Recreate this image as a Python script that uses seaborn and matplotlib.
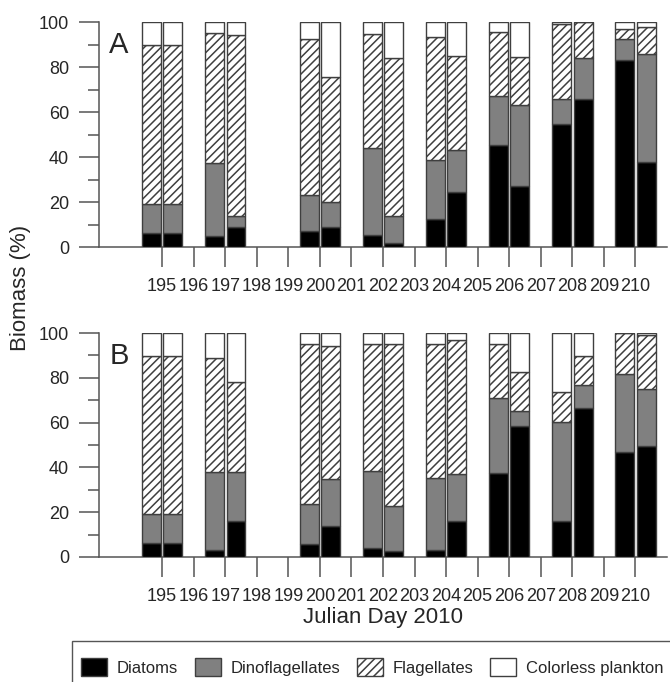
"""
Phytoplankton biomass composition (%) per Julian day, two replicate bars per day,
for two panels (A and B).
"""

import matplotlib

matplotlib.use("Agg")
import matplotlib.pyplot as plt
from matplotlib.patches import Patch, Rectangle
import seaborn as sns

# ------------------------------------------------------------------------------
# Data (percent of biomass, first and second bar per day)
# ------------------------------------------------------------------------------
days = [195, 197, 200, 202, 204, 206, 208, 210]
tick_days = list(range(195, 211))
groups = ["Diatoms", "Dinoflagellates", "Flagellates", "Colorless plankton"]

a_diatoms = [(6.2, 6.2), (5.1, 8.9), (7.3, 8.8), (5.2, 1.8), (12.3, 24.5), (45.5, 27.2), (54.5, 65.8), (83.1, 37.7)]
a_dino = [(13.1, 13.1), (32.3, 5.1), (15.7, 11.3), (38.8, 12.0), (26.5, 18.6), (21.7, 36.1), (11.2, 18.2), (9.2, 48.0)]
a_flag = [(70.7, 70.7), (57.8, 80.4), (69.4, 55.5), (50.5, 70.2), (54.5, 41.9), (28.3, 21.1), (33.4, 16.0), (4.6, 12.2)]
a_colorless = [(10.0, 10.0), (4.8, 5.6), (7.6, 24.4), (5.5, 16.0), (6.7, 15.0), (4.5, 15.6), (0.9, 0.0), (3.1, 2.1)]

b_diatoms = [(6.2, 6.2), (3.3, 15.9), (5.9, 13.9), (4.2, 2.5), (3.3, 16.2), (37.7, 58.3), (16.0, 66.5), (47.0, 49.7)]
b_dino = [(13.1, 13.1), (34.5, 21.9), (17.8, 21.0), (34.1, 20.1), (31.9, 20.7), (33.4, 6.7), (44.4, 10.2), (34.9, 25.5)]
b_flag = [(70.5, 70.5), (50.9, 40.2), (71.6, 59.2), (56.8, 72.5), (59.8, 59.8), (23.9, 17.6), (13.2, 12.9), (18.0, 23.8)]
b_colorless = [(10.2, 10.2), (11.3, 22.0), (4.7, 5.9), (4.9, 4.9), (5.0, 3.3), (5.0, 17.4), (26.4, 10.4), (0.1, 1.0)]

# ------------------------------------------------------------------------------
# Style
# ------------------------------------------------------------------------------
sns.set_style("ticks")
plt.rcParams["font.family"] = ["Liberation Sans", "DejaVu Sans"]
plt.rcParams["hatch.linewidth"] = 1.1

EDGE = "#3f3f3f"
SPINE = "#555555"
fills = ["#000000", "#808080", "white", "white"]
hatches = [None, None, "////", None]

BAR_W = 0.6
OFFSETS = (-0.34, 0.34)

fig = plt.figure(figsize=(6.7, 6.82), dpi=100)
ax_a = fig.add_axes([0.1478, 0.6378, 0.8477, 0.3299])
ax_b = fig.add_axes([0.1478, 0.1833, 0.8477, 0.3284])


def draw_panel(ax, series, letter):
    for rep, off in enumerate(OFFSETS):
        x = [d + off for d in days]
        bottom = [0.0] * len(days)
        for vals, fc, hatch in zip(series, fills, hatches):
            h = [v[rep] for v in vals]
            ax.bar(x, h, width=BAR_W, bottom=bottom, color=fc, edgecolor=EDGE,
                   linewidth=1.0, hatch=hatch, zorder=3)
            bottom = [b + v for b, v in zip(bottom, h)]

    ax.set_xlim(193, 211)
    ax.set_ylim(0, 100)
    ax.set_xticks(tick_days)
    ax.set_xticklabels([str(d) for d in tick_days])
    ax.set_yticks(range(0, 101, 20))
    ax.set_yticks(range(10, 100, 20), minor=True)
    ax.tick_params(axis="x", length=14.5, width=1.1, color=SPINE, pad=8, labelsize=13)
    ax.tick_params(axis="y", which="major", length=14.5, width=1.1, color=SPINE, pad=7, labelsize=13)
    ax.tick_params(axis="y", which="minor", length=8, width=1.1, color=SPINE)
    sns.despine(ax=ax)
    for side in ("left", "bottom"):
        ax.spines[side].set_color(SPINE)
        ax.spines[side].set_linewidth(1.1)
    ax.text(0.018, 0.96, letter, transform=ax.transAxes, ha="left", va="top", fontsize=21)


draw_panel(ax_a, [a_diatoms, a_dino, a_flag, a_colorless], "A")
draw_panel(ax_b, [b_diatoms, b_dino, b_flag, b_colorless], "B")

fig.text(0.03, 1 - 288 / 682, "Biomass (%)", rotation=90, ha="center", va="center", fontsize=16)
fig.text(0.5716, 1 - 617 / 682, "Julian Day 2010", ha="center", va="center", fontsize=16)

# legend with a box running off the bottom/right of the figure
fig.patches.append(Rectangle((72 / 670, -0.05), 1.0, 0.05 + 1 - 641 / 682,
                             transform=fig.transFigure, fill=False,
                             edgecolor=SPINE, linewidth=1.0))
handles = [Patch(facecolor=fc, edgecolor=EDGE, hatch=h, linewidth=1.0, label=g)
           for g, fc, h in zip(groups, fills, hatches)]
fig.legend(handles=handles, loc="center left", bbox_to_anchor=(81 / 670, 1 - 667 / 682),
           ncol=4, frameon=False, fontsize=12, handlelength=1.55, handleheight=1.2,
           handletextpad=0.6, columnspacing=1.0, borderpad=0, borderaxespad=0)

fig.savefig("out.png", dpi=100)
